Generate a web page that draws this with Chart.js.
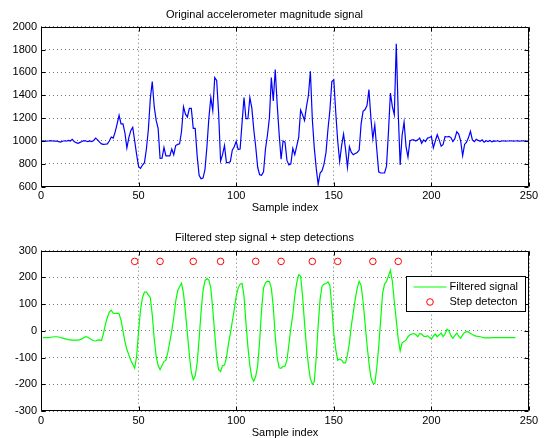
<!DOCTYPE html>
<html>
<head>
<meta charset="utf-8">
<script src="https://cdn.jsdelivr.net/npm/chart.js@4"></script>
<style>
  html, body { margin: 0; padding: 0; background: #fff; overflow: hidden; }
  #wrap { position: relative; width: 545px; height: 438px; }
  canvas { position: absolute; left: 0; }
  #top-chart { top: 0; }
  #bottom-chart { top: 219px; }
</style>
</head>
<body>
<div id="wrap">
  <canvas id="top-chart" width="545" height="219"></canvas>
  <canvas id="bottom-chart" width="545" height="219"></canvas>
</div>
<script>
// Señal original (magnitud del acelerómetro), una muestra por índice desde 0
const rawSignal = [
  1000, 1002, 1000, 998, 1000, 1003, 1000, 998, 1000, 995,
  990, 998, 1002, 998, 1005, 1000, 1015, 995, 985, 980,
  988, 995, 1003, 1000, 995, 1000, 995, 1005, 1025, 1010,
  990, 975, 970, 972, 975, 1000, 1035, 1025, 1080, 1150,
  1225, 1150, 1150, 1070, 940, 1030, 1090, 1120, 1000, 880,
  775, 760, 790, 810, 930, 1100, 1370, 1520, 1300, 1180,
  1110, 848, 850, 943, 870, 870, 870, 930, 880, 960,
  970, 975, 1085, 1300, 1235, 1210, 1285, 1285, 1110, 1110,
  870, 700, 670, 675, 750, 950, 1200, 1380, 1265, 1555,
  1530, 1240, 825, 880, 960, 810, 810, 820, 920, 950,
  997, 925, 930, 1160, 1380, 1195, 1195, 1380, 1290, 1100,
  950, 770, 705, 700, 730, 930, 1050, 1200, 1555, 1350,
  1625, 1320, 1060, 840, 1000, 990, 830, 790, 800, 935,
  880, 955, 1030, 1270, 1230, 1180, 1300, 1400, 1610, 1190,
  940, 760, 620, 720, 740, 800, 900, 1100, 1270, 1520,
  1535, 1250, 1000, 820, 960, 1060, 930, 770, 950, 900,
  880, 890, 900, 920, 1150, 1260, 1275, 1310, 1450, 1200,
  1020, 1140, 930, 730, 720, 720, 720, 780, 1080, 1420,
  1300, 1230, 1850, 1250, 790, 1050, 1165, 950, 860, 1000,
  1010, 1010, 1000, 1010, 1025, 980, 1010, 995, 1025, 1030,
  1040, 940, 1000, 1055, 1010, 955, 970, 1040, 1035, 1040,
  1030, 995, 1020, 1080, 1060, 1000, 870, 970, 990, 1030,
  1085, 1010, 995, 1015, 1005, 998, 1010, 990, 1002, 995,
  1005, 992, 1000, 998, 1002, 995, 1000, 1002, 998, 1000,
  1000, 1002, 998, 1000, 1001, 999, 1000, 1001, 1000, 999,
  1000
];

// Señal filtrada, empieza en el índice 1
const filteredStart = 1;
const filteredSignal = [
  -25, -25, -25, -25, -24, -23, -22, -22, -23,
  -25, -27, -29, -31, -33, -34, -35, -35, -35, -35,
  -33, -30, -25, -22, -24, -29, -33, -37, -38, -35,
  -34, -36, -10, 25, 50, 70, 77, 66, 65, 66,
  64, 40, 0, -40, -70, -90, -110, -125, -140, -95,
  0, 80, 125, 145, 145, 135, 125, 60, -30, -95,
  -130, -145, -130, -115, -110, -80, -40, 0, 50, 110,
  150, 165, 178, 140, 70, -10, -90, -155, -183, -168,
  -120, -30, 70, 150, 188, 196, 190, 160, 80, -10,
  -100, -145, -152, -130, -128, -100, -50, -10, 35, 80,
  130, 160, 175, 178, 130, 30, -60, -130, -175, -189,
  -170, -130, -40, 80, 160, 180, 186, 185, 160, 90,
  -20, -100, -138, -140, -133, -132, -110, -50, 10, 60,
  130, 180, 210, 205, 130, 30, -60, -130, -180, -200,
  -190, -100, 20, 120, 168, 175, 177, 184, 170, 90,
  -10, -70, -110, -105, -110, -120, -120, -90, -45, 20,
  70, 120, 160, 185, 170, 110, 30, -50, -120, -175,
  -195, -198, -140, -60, 40, 140, 175, 185, 205, 227,
  185, 110, 40, -30, -75, -45, -40, -35, -22, -15,
  -12, -10, -14, -22, -10, -12, -20, -22, -18, -25,
  -30, -20, -12, -22, -15, -8, -22, -12, 6, 0,
  -18, -28, -18, -8, -20, -28, -15, -6, -3, -4,
  -10, -14, -18, -20, -21, -22, -24, -26, -26, -26,
  -26, -25, -25, -25, -25, -25, -25, -25, -25, -25,
  -25, -25, -25, -25
];

// Detecciones de pasos
const stepIdx = [48, 61, 78, 92, 110, 123, 139, 152, 170, 183];
const stepLevel = [260, 260, 260, 260, 260, 260, 260, 260, 260, 260];

// Marcas de los ejes
const xTicks = [0, 50, 100, 150, 200, 250];
const topYTicks = [600, 800, 1000, 1200, 1400, 1600, 1800, 2000];
const bottomYTicks = [-300, -200, -100, 0, 100, 200, 300];

const FONT = { family: "'Liberation Sans', Arial, Helvetica, sans-serif", size: 11, weight: 'normal' };
Chart.defaults.font = FONT;
Chart.defaults.color = '#000';

// Caja negra y marcas hacia dentro, estilo MATLAB
const matlabBox = {
  id: 'matlabBox',
  afterDraw(chart) {
    const { ctx, chartArea: a, scales } = chart;
    const L = Math.round(a.left) + 0.5, R = Math.round(a.right) - 0.5;
    const T = Math.round(a.top) + 0.5, B = Math.round(a.bottom) - 0.5;
    ctx.save();
    ctx.strokeStyle = '#000';
    ctx.lineWidth = 1;
    ctx.setLineDash([]);
    ctx.beginPath();
    ctx.rect(L, T, R - L, B - T);
    scales.x.ticks.forEach(t => {
      const px = Math.round(scales.x.getPixelForValue(t.value)) + 0.5;
      ctx.moveTo(px, B); ctx.lineTo(px, B - 4);
      ctx.moveTo(px, T); ctx.lineTo(px, T + 4);
    });
    scales.y.ticks.forEach(t => {
      const py = Math.round(scales.y.getPixelForValue(t.value)) + 0.5;
      ctx.moveTo(L, py); ctx.lineTo(L + 4, py);
      ctx.moveTo(R, py); ctx.lineTo(R - 4, py);
    });
    ctx.stroke();
    ctx.restore();
  }
};

// Leyenda dentro del gráfico (arriba a la derecha)
const insideLegend = {
  id: 'insideLegend',
  afterDraw(chart) {
    const { ctx, chartArea: a } = chart;
    const sets = chart.data.datasets;
    const w = 119, h = 35;
    const x0 = Math.round(a.right - 4 - w) + 0.5, y0 = Math.round(a.top + 25) + 0.5;
    ctx.save();
    ctx.fillStyle = '#fff';
    ctx.fillRect(x0, y0, w, h);
    ctx.strokeStyle = '#000';
    ctx.lineWidth = 1;
    ctx.strokeRect(x0, y0, w, h);
    ctx.font = "11px 'Liberation Sans', Arial, sans-serif";
    ctx.fillStyle = '#000';
    ctx.textBaseline = 'middle';
    // línea filtrada
    const r1 = y0 + 10.5;
    ctx.strokeStyle = sets[0].borderColor;
    ctx.lineWidth = 1.2;
    ctx.beginPath(); ctx.moveTo(x0 + 7, r1); ctx.lineTo(x0 + 40, r1); ctx.stroke();
    ctx.fillText(sets[0].label, x0 + 43, r1);
    // círculo de detección
    const r2 = y0 + 25.5;
    ctx.strokeStyle = sets[1].pointBorderColor;
    ctx.lineWidth = 1;
    ctx.beginPath(); ctx.arc(x0 + 23.5, r2, 3.3, 0, Math.PI * 2); ctx.stroke();
    ctx.fillText(sets[1].label, x0 + 43, r2);
    ctx.restore();
  }
};

function baseOptions(titleText, yMin, yMax, yTicks, titlePad, xTitlePad) {
  return {
    responsive: false,
    animation: false,
    devicePixelRatio: 1,
    layout: { padding: { left: 0, right: 16, top: 0, bottom: 0 } },
    plugins: {
      legend: { display: false },
      tooltip: { enabled: false },
      title: { display: true, text: titleText, font: FONT, color: '#000', padding: titlePad }
    },
    scales: {
      x: {
        type: 'linear', min: 0, max: 250,
        afterBuildTicks: s => { s.ticks = xTicks.map(v => ({ value: v })); },
        ticks: { padding: 3, font: FONT, color: '#000', callback: v => String(v) },
        grid: { color: '#777', lineWidth: 1, drawTicks: false },
        border: { display: false, dash: [1, 3] },
        title: { display: true, text: 'Sample index', font: FONT, color: '#000', padding: xTitlePad }
      },
      y: {
        min: yMin, max: yMax,
        afterBuildTicks: s => { s.ticks = yTicks.map(v => ({ value: v })); },
        afterFit: s => { s.width = 41; },
        ticks: { padding: 4, font: FONT, color: '#000', callback: v => String(v) },
        grid: { color: '#777', lineWidth: 1, drawTicks: false },
        border: { display: false, dash: [1, 3] }
      }
    }
  };
}

// Gráfico superior: señal original
const topOpts = baseOptions('Original accelerometer magnitude signal', 600, 2000, topYTicks,
  { top: 8, bottom: 5.5 }, { top: 0, bottom: 4.4 });
topOpts.scales.x.afterFit = s => { s.height = 32.3; };
new Chart(document.getElementById('top-chart').getContext('2d'), {
  type: 'line',
  data: {
    datasets: [{
      label: 'Original signal',
      data: rawSignal.map((v, i) => ({ x: i, y: v })),
      borderColor: '#0000ff',
      borderWidth: 1.2,
      pointRadius: 0,
      tension: 0,
      fill: false
    }]
  },
  options: topOpts,
  plugins: [matlabBox]
});

// Gráfico inferior: señal filtrada + detecciones
const bottomOpts = baseOptions('Filtered step signal + step detections', -300, 300, bottomYTicks,
  { top: 12, bottom: 6.5 }, { top: 0, bottom: -1.6 });
bottomOpts.scales.x.afterFit = s => { s.height = 27; };
new Chart(document.getElementById('bottom-chart').getContext('2d'), {
  type: 'line',
  data: {
    datasets: [{
      label: 'Filtered signal',
      data: filteredSignal.map((v, i) => ({ x: i + filteredStart, y: v })),
      borderColor: '#00ff00',
      borderWidth: 1.2,
      pointRadius: 0,
      tension: 0,
      fill: false
    }, {
      label: 'Step detecton',
      data: stepIdx.map((v, i) => ({ x: v, y: stepLevel[i] })),
      showLine: false,
      pointStyle: 'circle',
      pointRadius: 3.3,
      pointBorderWidth: 1,
      pointBorderColor: '#ff0000',
      pointBackgroundColor: 'rgba(0,0,0,0)'
    }]
  },
  options: bottomOpts,
  plugins: [matlabBox, insideLegend]
});
</script>
</body>
</html>
